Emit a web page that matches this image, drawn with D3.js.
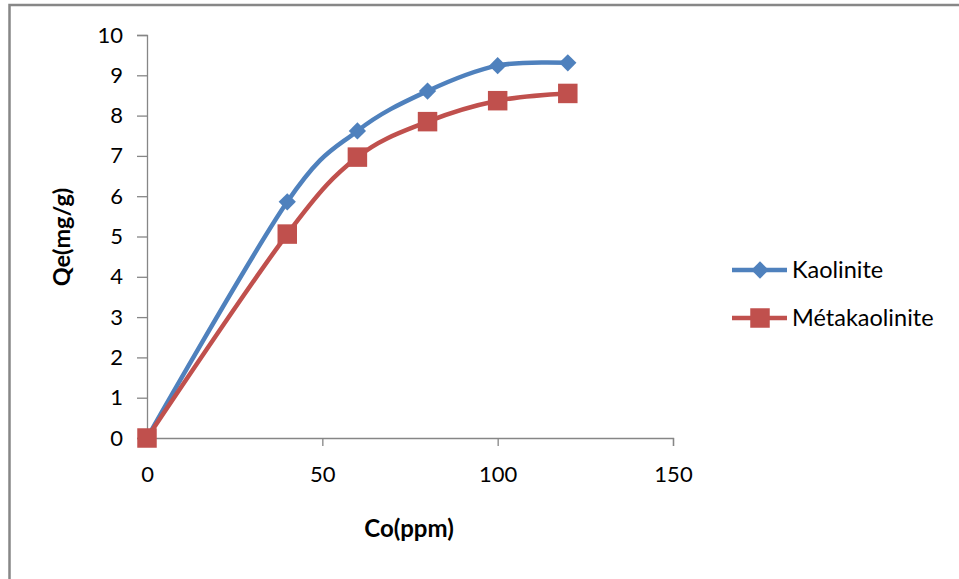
<!DOCTYPE html>
<html>
<head>
<meta charset="utf-8">
<script src="https://cdn.jsdelivr.net/npm/d3@7"></script>
<style>
  body { margin: 0; background: #fff; }
  text { font-family: Lato, "Open Sans", sans-serif; fill: #000; }
</style>
</head>
<body>
<svg id="chart" width="959" height="579"></svg>
<script>
// data
const concentrations = [0, 40, 60, 80, 100, 120]
const kaolinite = [0, 5.86, 7.62, 8.61, 9.24, 9.31]
const metakaolinite = [0, 5.06, 6.97, 7.85, 8.37, 8.55]
const seriesNames = ["Kaolinite", "Métakaolinite"]
const xTicks = [0, 50, 100, 150]
const yTicks = [0, 1, 2, 3, 4, 5, 6, 7, 8, 9, 10]

const svg = d3.select("#chart")

// outer chart frame (only top and left edges fall inside the picture)
svg.append("rect")
  .attr("x", 9.5)
  .attr("y", 5)
  .attr("width", 1000)
  .attr("height", 700)
  .attr("fill", "none")
  .attr("stroke", "#878787")
  .attr("stroke-width", 2.5)

let margin = { left: 147, top: 35 }
let plotW = 526
let plotH = 403

let x = d3.scaleLinear().domain([0, 150]).range([0, plotW])
let y = d3.scaleLinear().domain([0, 10]).range([plotH, 0])

let chart = svg.append("g")
  .attr("transform", "translate(" + margin.left + "," + margin.top + ")")

let xAxis = d3.axisBottom(x).tickValues(xTicks).tickSize(8).tickSizeOuter(8).tickPadding(20)
let yAxis = d3.axisLeft(y).tickValues(yTicks).tickSize(10).tickSizeOuter(10).tickPadding(14)

let gx = chart.append("g")
  .attr("transform", "translate(0," + plotH + ")")
  .call(xAxis)
gx.selectAll("text").attr("font-size", 22).style("font-family", "Lato")

let gy = chart.append("g").call(yAxis)
gy.selectAll("text").attr("font-size", 22).style("font-family", "Lato")

chart.selectAll(".domain, .tick line").attr("stroke", "#868686").attr("stroke-width", 1.3)

// axis titles
svg.append("text")
  .attr("x", 409)
  .attr("y", 537)
  .attr("text-anchor", "middle")
  .attr("font-size", 24)
  .attr("font-weight", "bold")
  .text("Co(ppm)")

svg.append("text")
  .attr("transform", "translate(70,237) rotate(-90)")
  .attr("text-anchor", "middle")
  .attr("font-size", 23.5)
  .attr("font-weight", "bold")
  .text("Qe(mg/g)")

let colors = ["#4F81BD", "#C0504D"]
let allSeries = [kaolinite, metakaolinite]

let line = d3.line()
  .x(function(d) { return x(d[0]) })
  .y(function(d) { return y(d[1]) })
  .curve(d3.curveCatmullRom.alpha(0))

let diamond = d3.symbol().type(d3.symbolDiamond2).size(190)
let square = d3.symbol().type(d3.symbolSquare).size(380)
let shapes = [diamond, square]

allSeries.forEach(function(vals, i) {
  let pts = concentrations.map(function(c, j) { return [c, vals[j]] })
  chart.append("path")
    .datum(pts)
    .attr("d", line)
    .attr("fill", "none")
    .attr("stroke", colors[i])
    .attr("stroke-width", 4.5)
  chart.selectAll(".m" + i)
    .data(pts)
    .enter()
    .append("path")
    .attr("class", "m" + i)
    .attr("transform", function(d) { return "translate(" + x(d[0]) + "," + y(d[1]) + ")" })
    .attr("d", shapes[i])
    .attr("fill", colors[i])
})

// legend
let legend = svg.append("g")
seriesNames.forEach(function(name, i) {
  let ly = 270 + i * 48
  legend.append("line")
    .attr("x1", 732).attr("x2", 787)
    .attr("y1", ly).attr("y2", ly)
    .attr("stroke", colors[i])
    .attr("stroke-width", 4.5)
  legend.append("path")
    .attr("transform", "translate(760," + ly + ")")
    .attr("d", shapes[i])
    .attr("fill", colors[i])
  legend.append("text")
    .attr("x", 792)
    .attr("y", ly + 8)
    .attr("font-size", 23.5)
    .text(name)
})
</script>
</body>
</html>
